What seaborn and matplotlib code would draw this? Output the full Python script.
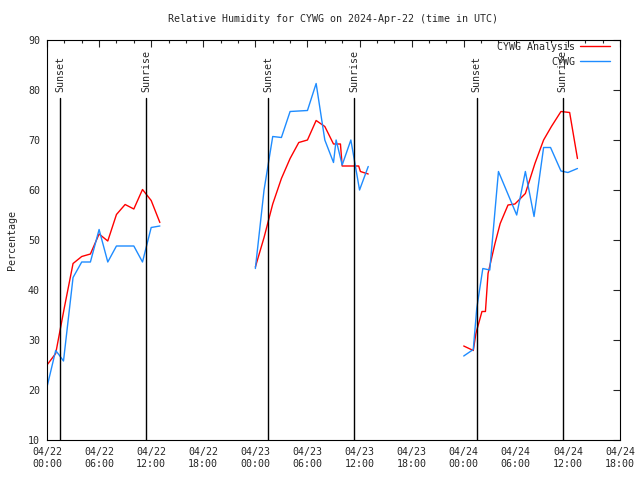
import numpy as np
import pandas as pd
import matplotlib
matplotlib.use("Agg")
import matplotlib.pyplot as plt
from matplotlib.lines import Line2D
import seaborn as sns

# hours since 2024-04-22 00:00 UTC, three nightly segments
analysis_hours_1 = [0, 1, 2, 3, 4, 5, 6, 7, 8, 9, 10, 11, 12, 13]
analysis_rh_1 = [25.0, 27.3, 36.5, 45.3, 46.7, 47.2, 51.2, 49.8, 55.1, 57.1, 56.2, 60.1, 57.9, 53.5]
analysis_hours_2 = [24, 25, 26, 27, 28, 29, 30, 31, 32, 33, 33.8, 34, 35.9, 36.1, 37]
analysis_rh_2 = [44.6, 50.5, 57.2, 62.3, 66.3, 69.5, 70.0, 73.9, 72.7, 69.2, 69.2, 64.8, 64.8, 63.7, 63.2]
analysis_hours_3 = [48, 49.1, 49.4, 50.1, 50.5, 50.8, 51.6, 52.2, 53.1, 53.9, 55.1, 56.2, 57.2, 58.1, 59.2, 60.2, 61.1]
analysis_rh_3 = [28.8, 27.9, 31.3, 35.7, 35.7, 43.3, 49.3, 53.3, 57.0, 57.2, 59.3, 65.3, 70.0, 72.7, 75.7, 75.5, 66.3]

obs_hours_1 = [0, 1, 1.4, 1.9, 3, 4, 5, 6, 7, 8, 10, 11, 12, 13]
obs_rh_1 = [20.6, 27.9, 27.0, 25.8, 42.5, 45.6, 45.6, 52.1, 45.6, 48.8, 48.8, 45.6, 52.5, 52.8]
obs_hours_2 = [24, 25, 26, 27, 28, 30, 31, 32, 33, 33.3, 34, 35, 36, 37]
obs_rh_2 = [44.3, 60.0, 70.7, 70.5, 75.7, 75.9, 81.3, 70.0, 65.5, 70.0, 65.0, 70.0, 60.0, 64.7]
obs_hours_3 = [48, 49.1, 49.5, 50.2, 51, 52, 54.1, 55.1, 56.1, 57.2, 58, 59.2, 60, 61.1]
obs_rh_3 = [26.8, 28.1, 36.3, 44.3, 44.0, 63.7, 55.0, 63.7, 54.7, 68.5, 68.5, 63.8, 63.5, 64.3]

sunset_hours = [1.5, 25.45, 49.5]
sunrise_hours = [11.4, 35.4, 59.4]

tick_hours = [0, 6, 12, 18, 24, 30, 36, 42, 48, 54, 60, 66]
tick_labels = ["04/22\n00:00", "04/22\n06:00", "04/22\n12:00", "04/22\n18:00",
               "04/23\n00:00", "04/23\n06:00", "04/23\n12:00", "04/23\n18:00",
               "04/24\n00:00", "04/24\n06:00", "04/24\n12:00", "04/24\n18:00"]

#Build long table
frames = []
for name, hrs, vals in [("CYWG Analysis", analysis_hours_1, analysis_rh_1),
                        ("CYWG Analysis", analysis_hours_2, analysis_rh_2),
                        ("CYWG Analysis", analysis_hours_3, analysis_rh_3),
                        ("CYWG", obs_hours_1, obs_rh_1),
                        ("CYWG", obs_hours_2, obs_rh_2),
                        ("CYWG", obs_hours_3, obs_rh_3)]:
    frames.append(pd.DataFrame({"series": name, "seg": len(frames), "hour": hrs, "rh": vals}))
data = pd.concat(frames, ignore_index=True)

sns.set_style("white")
plt.rcParams['font.family'] = ['DejaVu Sans Mono']
fs = 7.2

colors = {"CYWG Analysis": "#ff0000", "CYWG": "#1e8cff"}

fig = plt.figure(figsize=(6.4, 4.8), dpi=100)
ax = fig.add_axes([47/640, 40/480, 573/640, 400/480])

for name in ["CYWG Analysis", "CYWG"]:
    sns.lineplot(data=data[data.series == name], x="hour", y="rh", units="seg",
                 estimator=None, sort=False, color=colors[name], linewidth=1.0, ax=ax)

#Sunset / sunrise markers
for h in sunset_hours:
    ax.plot([h, h], [10, 78.4], color="black", linewidth=1.0)
    ax.text(h, 79.6, "Sunset", rotation=90, ha="center", va="bottom", fontsize=fs)
for h in sunrise_hours:
    ax.plot([h, h], [10, 78.4], color="black", linewidth=1.0)
    ax.text(h, 79.6, "Sunrise", rotation=90, ha="center", va="bottom", fontsize=fs)

ax.set_xlim(0, 66)
ax.set_ylim(10, 90)
ax.set_xticks(tick_hours)
ax.set_xticklabels(tick_labels)
ax.set_xticks(np.arange(0, 67, 2), minor=True)
ax.set_yticks(np.arange(10, 91, 10))
ax.tick_params(axis="both", which="major", direction="in", length=5, width=0.8,
               top=True, right=True, labelsize=fs, pad=5)
ax.tick_params(axis="x", which="minor", direction="in", length=2.5, width=0.8, top=True)
ax.set_xlabel("")
ax.set_ylabel("")
for s in ax.spines.values():
    s.set_color("black")
    s.set_linewidth(0.8)

handles = [Line2D([], [], color=colors["CYWG Analysis"], linewidth=1.0),
           Line2D([], [], color=colors["CYWG"], linewidth=1.0)]
ax.legend(handles, ["CYWG Analysis", "CYWG"], loc="upper right",
          bbox_to_anchor=(1 - 10/573, 0.995), frameon=False, markerfirst=False,
          handlelength=3.0, handletextpad=0.5, labelspacing=0.5,
          borderaxespad=0, borderpad=0, fontsize=fs, alignment="right")

fig.text((47 + 620) / 2 / 640, 1 - 19/480,
         "Relative Humidity for CYWG on 2024-Apr-22 (time in UTC)",
         ha="center", va="center", fontsize=fs)
fig.text(12/640, 0.5, "Percentage", rotation=90, ha="center", va="center", fontsize=fs)

fig.savefig("out.png", dpi=100)
